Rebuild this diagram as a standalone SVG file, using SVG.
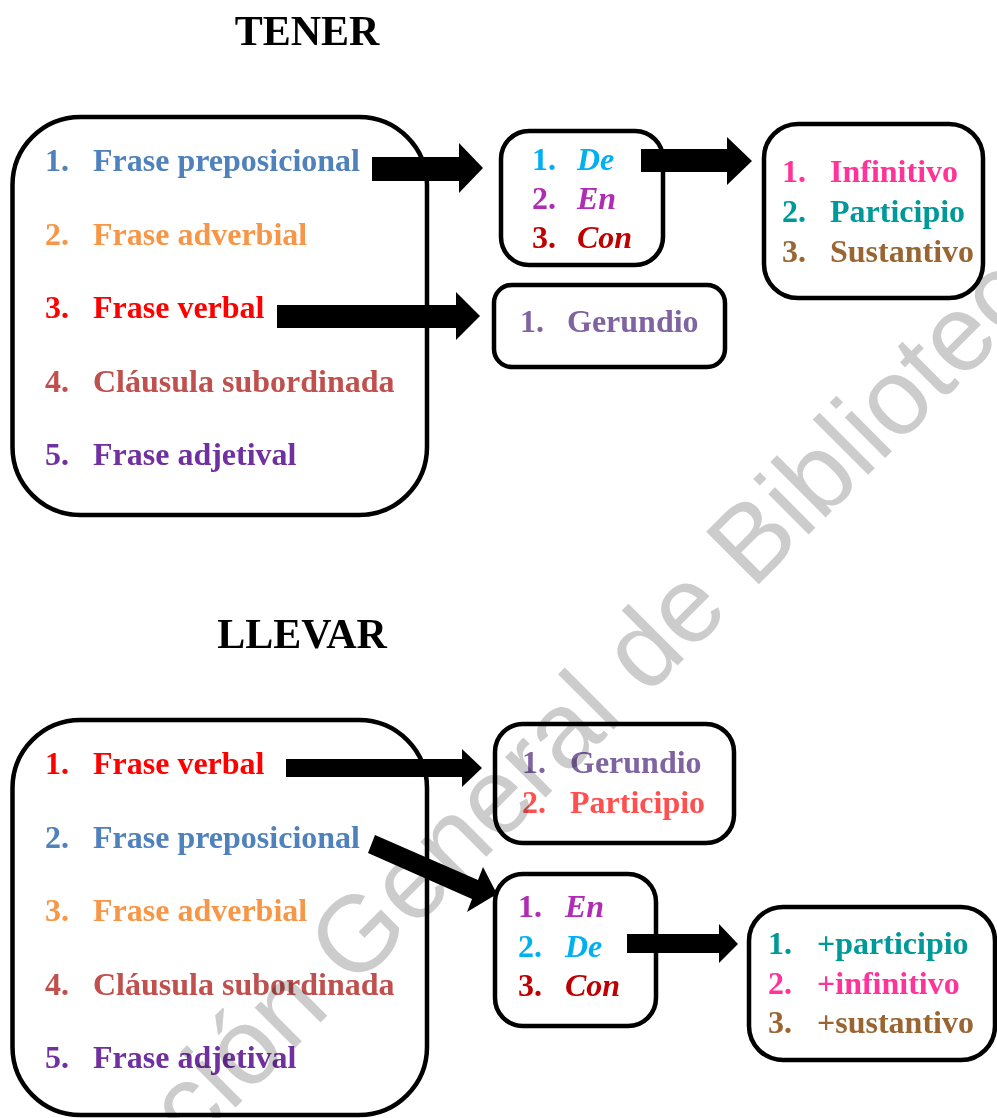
<svg xmlns="http://www.w3.org/2000/svg" width="997" height="1118" viewBox="0 0 997 1118">
<style>
.t{font-family:"Liberation Serif","Times New Roman",serif;font-weight:bold;font-size:32px}
.it{font-style:italic}
.title{font-family:"Liberation Serif","Times New Roman",serif;font-weight:bold;font-size:42px;fill:#000}
.box{fill:#fff;stroke:#000;stroke-width:4.5}
.arrow{fill:#000}
.wm{font-family:"Liberation Sans",Arial,sans-serif;font-size:108px;fill:#cccccc;mix-blend-mode:multiply}
.c-prep{fill:#4F81BD}.c-adv{fill:#F79646}.c-verb{fill:#FF0000}.c-claus{fill:#C0504D}.c-adj{fill:#7030A0}
.c-de{fill:#00B0F0}.c-en{fill:#B02CB5}.c-con{fill:#C00000}
.c-inf{fill:#FF3399}.c-part{fill:#009999}.c-sust{fill:#996633}.c-ger{fill:#8064A2}.c-part2{fill:#FF5050}
</style>
<rect width="997" height="1118" fill="#fff"/>

<text class="title" x="307" y="45" text-anchor="middle">TENER</text>
<text class="title" x="302" y="648" text-anchor="middle">LLEVAR</text>

<g id="tener-main">
<rect class="box" x="12.5" y="117" width="414.5" height="398" rx="68" ry="68"/>
<text class="t c-prep" x="45" y="171">1.</text><text class="t c-prep" x="93" y="171">Frase preposicional</text>
<text class="t c-adv" x="45" y="244.5">2.</text><text class="t c-adv" x="93" y="244.5">Frase adverbial</text>
<text class="t c-verb" x="45" y="318">3.</text><text class="t c-verb" x="93" y="318">Frase verbal</text>
<text class="t c-claus" x="45" y="391.5">4.</text><text class="t c-claus" x="93" y="391.5">Cláusula subordinada</text>
<text class="t c-adj" x="45" y="465">5.</text><text class="t c-adj" x="93" y="465">Frase adjetival</text>
</g>

<g id="tener-prep">
<rect class="box" x="501" y="131" width="162" height="134" rx="28" ry="28"/>
<text class="t c-de" x="532" y="170">1.</text><text class="t it c-de" x="577" y="170">De</text>
<text class="t c-en" x="532" y="209">2.</text><text class="t it c-en" x="577" y="209">En</text>
<text class="t c-con" x="532" y="248">3.</text><text class="t it c-con" x="577" y="248">Con</text>
</g>

<g id="tener-forms">
<rect class="box" x="764" y="124" width="219" height="174" rx="34" ry="34"/>
<text class="t c-inf" x="782" y="182">1.</text><text class="t c-inf" x="830" y="182">Infinitivo</text>
<text class="t c-part" x="782" y="222">2.</text><text class="t c-part" x="830" y="222">Participio</text>
<text class="t c-sust" x="782" y="262">3.</text><text class="t c-sust" x="830" y="262">Sustantivo</text>
</g>

<g id="tener-ger">
<rect class="box" x="494" y="285" width="231" height="82" rx="18" ry="18"/>
<text class="t c-ger" x="520" y="332">1.</text><text class="t c-ger" x="567" y="332">Gerundio</text>
</g>

<g id="llevar-main">
<rect class="box" x="12.5" y="720" width="414.5" height="395" rx="68" ry="68"/>
<text class="t c-verb" x="45" y="774">1.</text><text class="t c-verb" x="93" y="774">Frase verbal</text>
<text class="t c-prep" x="45" y="847.5">2.</text><text class="t c-prep" x="93" y="847.5">Frase preposicional</text>
<text class="t c-adv" x="45" y="921">3.</text><text class="t c-adv" x="93" y="921">Frase adverbial</text>
<text class="t c-claus" x="45" y="994.5">4.</text><text class="t c-claus" x="93" y="994.5">Cláusula subordinada</text>
<text class="t c-adj" x="45" y="1068">5.</text><text class="t c-adj" x="93" y="1068">Frase adjetival</text>
</g>

<g id="llevar-verb">
<rect class="box" x="495" y="724" width="239" height="119" rx="28" ry="28"/>
<text class="t c-ger" x="522" y="773">1.</text><text class="t c-ger" x="570" y="773">Gerundio</text>
<text class="t c-part2" x="522" y="813">2.</text><text class="t c-part2" x="570" y="813">Participio</text>
</g>

<g id="llevar-prep">
<rect class="box" x="495" y="874" width="161" height="152" rx="28" ry="28"/>
<text class="t c-en" x="518" y="917">1.</text><text class="t it c-en" x="565" y="917">En</text>
<text class="t c-de" x="518" y="957">2.</text><text class="t it c-de" x="565" y="957">De</text>
<text class="t c-con" x="518" y="996">3.</text><text class="t it c-con" x="565" y="996">Con</text>
</g>

<g id="llevar-forms">
<rect class="box" x="749" y="907" width="246" height="153" rx="34" ry="34"/>
<text class="t c-part" x="768" y="954">1.</text><text class="t c-part" x="817" y="954">+participio</text>
<text class="t c-inf" x="768" y="994">2.</text><text class="t c-inf" x="817" y="994">+infinitivo</text>
<text class="t c-sust" x="768" y="1033">3.</text><text class="t c-sust" x="817" y="1033">+sustantivo</text>
</g>

<g id="connectors">
<polygon class="arrow" points="372,157 459,157 459,143 483,168 459,193 459,181 372,181"/>
<polygon class="arrow" points="277,305 456,305 456,292 480,316 456,340 456,328 277,328"/>
<polygon class="arrow" points="641,149 727,149 727,137 752,161 727,185 727,172 641,172"/>
<polygon class="arrow" points="286,759 462,759 462,749 482,768 462,787 462,777 286,777"/>
<polygon class="arrow" points="375,835 478,880 483,867 497,894 467,912 472,899 368,853"/>
<polygon class="arrow" points="627,934 719,934 719,924 738,944 719,963 719,953 627,953"/>
</g>

<text class="wm" x="14" y="1329" transform="rotate(-45 14 1329)">Dirección General de Bibliotecas</text>
</svg>
